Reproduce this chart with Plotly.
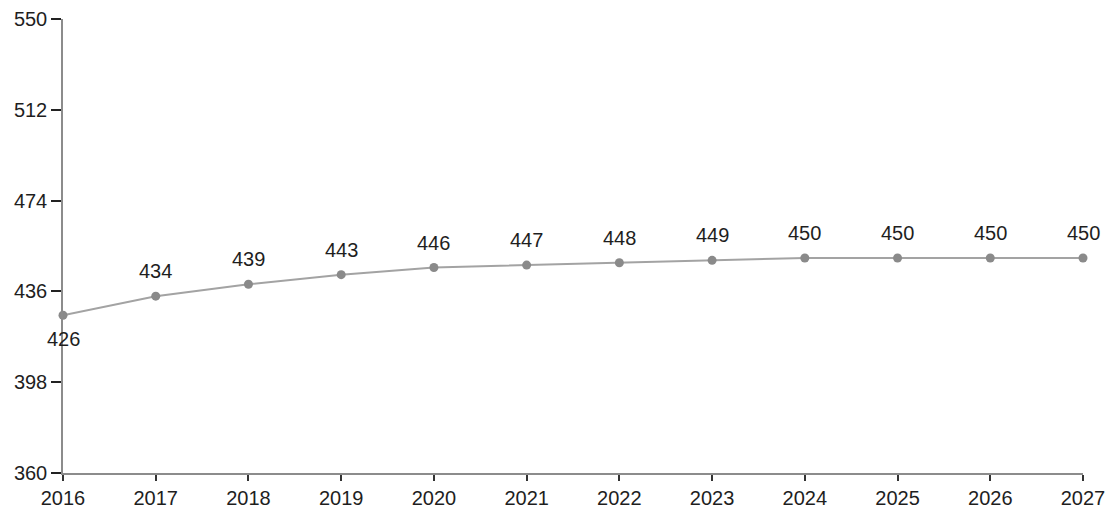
import plotly.graph_objects as go

# Yearly series
years = [2016, 2017, 2018, 2019, 2020, 2021, 2022, 2023, 2024, 2025, 2026, 2027]
values = [426, 434, 439, 443, 446, 447, 448, 449, 450, 450, 450, 450]
y_ticks = [360, 398, 436, 474, 512, 550]

FONT = "Liberation Sans, Arial, sans-serif"
TEXT_COLOR = "#1e1e1e"

fig = go.Figure(
    go.Scatter(
        x=years,
        y=values,
        mode="lines+markers",
        line=dict(color="#a3a3a3", width=2),
        marker=dict(color="#8a8a8a", size=9),
        cliponaxis=False,
        showlegend=False,
    )
)

# Value labels: first one below its point, the rest above
for i, (yr, v) in enumerate(zip(years, values)):
    fig.add_annotation(
        x=yr,
        y=v,
        text=str(v),
        showarrow=False,
        yshift=-24 if i == 0 else 25,
        font=dict(family=FONT, size=20, color=TEXT_COLOR),
    )

fig.update_layout(
    width=1108,
    height=513,
    margin=dict(l=63, r=25, t=19, b=40),
    paper_bgcolor="white",
    plot_bgcolor="white",
    font=dict(family=FONT, size=20, color=TEXT_COLOR),
)

fig.update_xaxes(
    range=[2016, 2027],
    tickvals=years,
    ticktext=[str(y) for y in years],
    showgrid=False,
    zeroline=False,
    showline=True,
    linecolor="#8c8c8c",
    linewidth=1.5,
    ticks="outside",
    ticklen=6,
    tickcolor="#333333",
    tickwidth=1.5,
    automargin=False,
)

fig.update_yaxes(
    range=[360, 550],
    tickvals=y_ticks,
    ticktext=[str(v) for v in y_ticks],
    showgrid=False,
    zeroline=False,
    showline=True,
    linecolor="#8c8c8c",
    linewidth=1.5,
    ticks="outside",
    ticklen=10,
    tickcolor="#222222",
    tickwidth=1.5,
    automargin=False,
)

fig.write_html("out.html")
